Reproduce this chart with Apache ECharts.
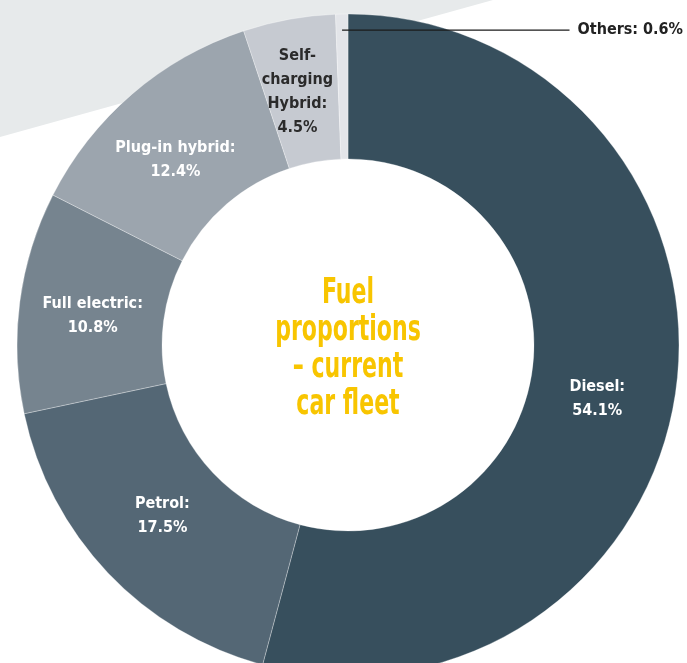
<!DOCTYPE html>
<html>
<head>
<meta charset="utf-8">
<style>
  html, body { margin: 0; padding: 0; background: #ffffff; }
  #chart { width: 687px; height: 663px; }
</style>
<script src="https://cdn.jsdelivr.net/npm/echarts@6/dist/echarts.min.js"></script>
</head>
<body>
<div id="chart"></div>
<script>
// Fuel shares of the current car fleet, in percent, clockwise from 12 o'clock
const categories = ['Diesel', 'Petrol', 'Full electric', 'Plug-in hybrid', 'Self-charging Hybrid', 'Others'];
const shares = [54.1, 17.5, 10.8, 12.4, 4.5, 0.6];
const labelNames = ['Diesel:', 'Petrol:', 'Full electric:', 'Plug-in hybrid:', 'Self-\ncharging\nHybrid:', 'Others:'];
const titleLines = ['Fuel', 'proportions', '\u2013 current', 'car fleet'];

// Styling
const sliceColors = ['#374f5d', '#546775', '#76848f', '#9ca5ae', '#c6cad1', '#e3e5e9'];
const labelColors = ['#ffffff', '#ffffff', '#ffffff', '#ffffff', '#2b2b2b', '#222222'];
const labelNudges = [[-10, 20], [4, -9], [4, 5], [-2, 13], [-4, 4], [0, 0]];

const CX = 348, CY = 345, R_IN = 186, R_OUT = 331;
const FONT = "'DejaVu Sans Condensed', 'Liberation Sans Narrow', 'Roboto', sans-serif";
const LEADER_R = R_OUT - 16;   // radius where the small slice's leader line starts
const RIGHT_EDGE = 683;

const chart = echarts.init(document.getElementById('chart'), null, { renderer: 'canvas' });

const total = shares.reduce((a, b) => a + b, 0);
const lastIdx = categories.length - 1;

// Angle (clockwise from top, radians) at the middle of the last slice
const before = shares.slice(0, lastIdx).reduce((a, b) => a + b, 0);
const midAngle = (before + shares[lastIdx] / 2) / total * Math.PI * 2;
const leadX = CX + LEADER_R * Math.sin(midAngle);
const leadY = CY - LEADER_R * Math.cos(midAngle);

const data = categories.map((name, i) => ({
  name: name,
  value: shares[i],
  itemStyle: { color: sliceColors[i] },
  label: i === lastIdx ? {
    position: 'outside',
    color: labelColors[i],
    formatter: p => labelNames[p.dataIndex] + ' ' + p.value.toFixed(1) + '%'
  } : {
    color: labelColors[i],
    offset: labelNudges[i]
  },
  labelLine: { show: false }
}));

let othersLabelWidth = 0;

function buildOption() {
  return {
    backgroundColor: '#ffffff',
    animation: false,
    graphic: [
      {
        type: 'polygon',
        z: -10,
        silent: true,
        shape: { points: [[0, 0], [493, 0], [0, 137]] },
        style: { fill: '#e7eaeb' }
      },
      {
        type: 'line',
        id: 'leader',
        z: 20,
        silent: true,
        shape: { x1: leadX, y1: leadY, x2: RIGHT_EDGE - othersLabelWidth - 8, y2: leadY },
        style: { stroke: '#1b1b1b', lineWidth: 1.3 }
      },
      {
        type: 'text',
        x: CX,
        y: CY + 4,
        scaleX: 0.7,
        z: 10,
        style: {
          text: titleLines.join('\n'),
          font: "bold 35px " + FONT,
          fill: '#f8c500',
          align: 'center',
          verticalAlign: 'middle',
          lineHeight: 37
        }
      }
    ],
    series: [{
      type: 'pie',
      center: [CX, CY],
      radius: [R_IN, R_OUT],
      startAngle: 90,
      clockwise: true,
      avoidLabelOverlap: false,
      itemStyle: { borderColor: 'rgba(255,255,255,0.5)', borderWidth: 0.6 },
      label: {
        show: true,
        position: 'inside',
        fontFamily: FONT,
        fontWeight: 'bold',
        fontSize: 16,
        lineHeight: 24,
        align: 'center',
        formatter: p => labelNames[p.dataIndex] + '\n' + p.value.toFixed(1) + '%'
      },
      labelLayout: function (params) {
        if (params.dataIndex !== lastIdx) return {};
        othersLabelWidth = params.labelRect.width;
        return {
          x: RIGHT_EDGE,
          y: leadY,
          align: 'right',
          verticalAlign: 'middle'
        };
      },
      emphasis: { disabled: true },
      data: data
    }]
  };
}

chart.setOption(buildOption());
// Second pass so the leader line ends just short of the measured label text
chart.setOption(buildOption());
</script>
</body>
</html>
